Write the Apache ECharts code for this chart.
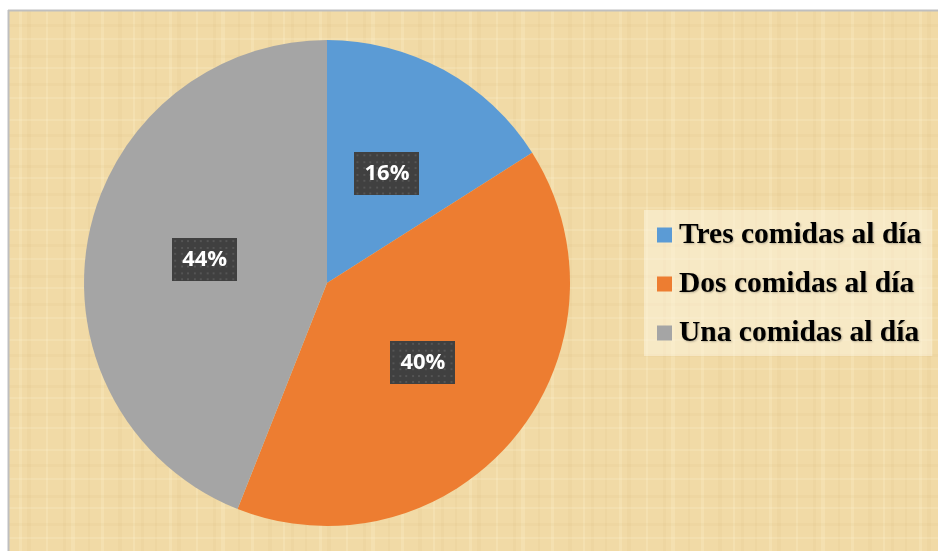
<!DOCTYPE html>
<html><head><meta charset="utf-8">
<script src="https://cdn.jsdelivr.net/npm/echarts@6/dist/echarts.min.js"></script>
<style>html,body{margin:0;padding:0;background:#fff}#c{width:938px;height:551px}</style>
</head><body><div id="c"></div>
<script>
var categories = ['Tres comidas al día', 'Dos comidas al día', 'Una comidas al día'];
var values = [16, 40, 44];
var colors = ['#5B9BD5', '#ED7D31', '#A5A5A5'];

function makeLabelBg() {
  var c = document.createElement('canvas'); c.width = 66; c.height = 44;
  var g = c.getContext('2d');
  g.fillStyle = '#404040'; g.fillRect(0, 0, 66, 44);
  g.fillStyle = '#555555';
  for (var y = 2; y < 44; y += 6.5) for (var x = 2; x < 66; x += 6.5) g.fillRect(Math.round(x), Math.round(y), 2, 2);
  return c;
}
function makeParchment() {
  var c = document.createElement('canvas'); c.width = 150; c.height = 110;
  var g = c.getContext('2d');
  g.fillStyle = '#F1DAA6'; g.fillRect(0, 0, 150, 110);
  var vs = [5, 19, 27, 46, 63, 71, 88, 101, 118, 133, 141];
  vs.forEach(function (x, i) { g.fillStyle = i % 2 ? 'rgba(255,245,215,0.22)' : 'rgba(200,165,95,0.07)'; g.fillRect(x, 0, 2 + (i % 3), 110); });
  var hs = [9, 24, 38, 55, 67, 83, 97];
  hs.forEach(function (y, i) { g.fillStyle = i % 2 ? 'rgba(200,165,95,0.07)' : 'rgba(255,245,215,0.2)'; g.fillRect(0, y, 150, 2 + (i % 2)); });
  return c;
}
var labelBg = makeLabelBg();
var chart = echarts.init(document.getElementById('c'), null, {renderer: 'canvas'});
chart.setOption({
  animation: false,
  backgroundColor: '#ffffff',
  graphic: [
    {type: 'rect', z: -10, shape: {x: 9, y: 11, width: 929, height: 540}, style: {fill: {image: makeParchment(), repeat: 'repeat'}}},
    {type: 'line', z: -9, shape: {x1: 8.5, y1: 10, x2: 8.5, y2: 551}, style: {stroke: '#BFBFBF', lineWidth: 2}},
    {type: 'line', z: -9, shape: {x1: 8, y1: 10.5, x2: 938, y2: 10.5}, style: {stroke: '#BFBFBF', lineWidth: 2}}
  ],
  color: colors,
  legend: {
    orient: 'vertical', left: 644, top: 210,
    padding: [10, 11, 8, 13],
    backgroundColor: 'rgba(255,250,235,0.45)',
    itemWidth: 15, itemHeight: 15, itemGap: 19,
    icon: 'rect',
    textStyle: {fontFamily: 'Liberation Serif', fontWeight: 'bold', fontSize: 29.5, color: '#000', padding: [0, 0, 0, 2],
      textShadowColor: 'rgba(0,0,0,0.25)', textShadowBlur: 2, textShadowOffsetX: 1, textShadowOffsetY: 1},
    data: categories
  },
  series: [{
    type: 'pie', center: [327, 283], radius: 243, startAngle: 90, clockwise: true,
    avoidLabelOverlap: false,
    itemStyle: {borderWidth: 0},
    label: {
      show: true, position: 'inside',
      formatter: function (p) { return p.value + '%'; },
      fontFamily: 'Open Sans', fontWeight: 'bold', fontSize: 22, color: '#fff', lineHeight: 27,
      backgroundColor: {image: labelBg}, padding: [8, 10],
      shadowColor: 'rgba(0,0,0,0.5)', shadowBlur: 6, shadowOffsetX: 3, shadowOffsetY: 3
    },
    labelLine: {show: false},
    emphasis: {disabled: true},
    data: categories.map(function (n, i) { return {name: n, value: values[i]}; })
  }]
});
</script></body></html>
